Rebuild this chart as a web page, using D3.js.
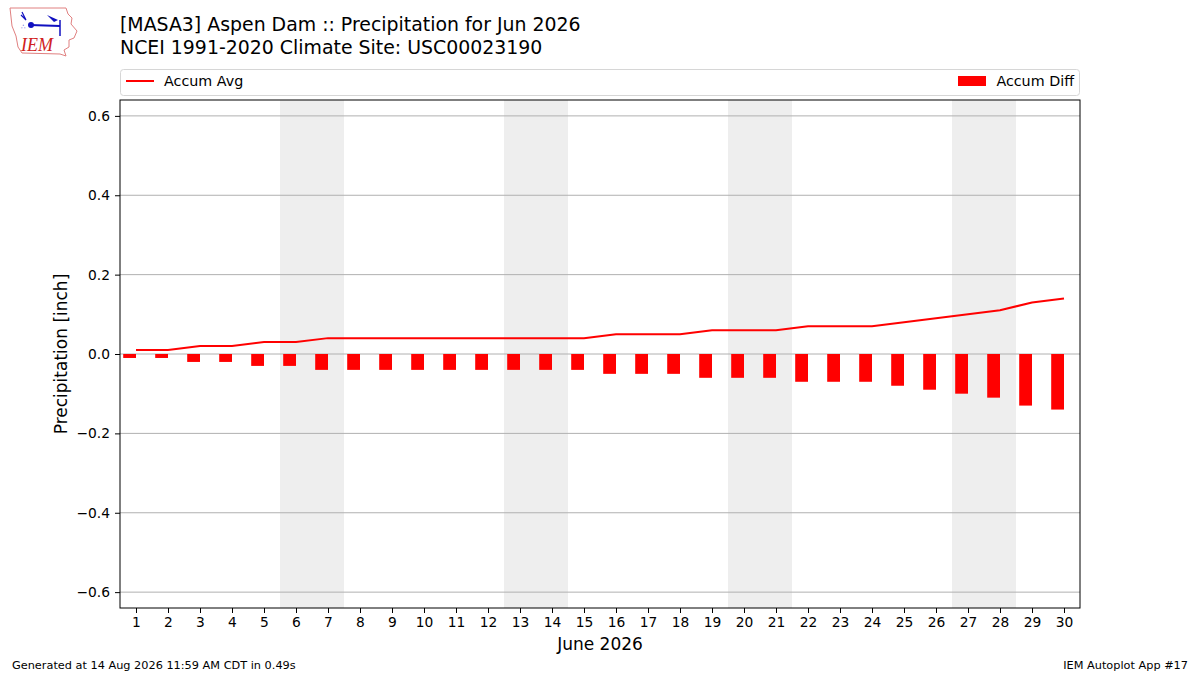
<!DOCTYPE html>
<html lang="en">
<head>
  <meta charset="UTF-8">
  <title>Aspen Dam Precipitation Jun 2026</title>
  <style>
    body { margin: 0; background: #fff; }
    svg { display: block; font-family: "DejaVu Sans", sans-serif; }
  </style>
</head>
<body>
  <svg width="1200" height="675"></svg>

  <script src="https://d3js.org/d3.v7.min.js"></script>
  <script>
    // data
    const days = d3.range(1, 31);
    const accumAvg = [0.01, 0.01, 0.02, 0.02, 0.03, 0.03, 0.04, 0.04, 0.04, 0.04,
                      0.04, 0.04, 0.04, 0.04, 0.04, 0.05, 0.05, 0.05, 0.06, 0.06,
                      0.06, 0.07, 0.07, 0.07, 0.08, 0.09, 0.10, 0.11, 0.13, 0.14];
    const accumDiff = [-0.01, -0.01, -0.02, -0.02, -0.03, -0.03, -0.04, -0.04, -0.04, -0.04,
                       -0.04, -0.04, -0.04, -0.04, -0.04, -0.05, -0.05, -0.05, -0.06, -0.06,
                       -0.06, -0.07, -0.07, -0.07, -0.08, -0.09, -0.10, -0.11, -0.13, -0.14];
    const weekendStarts = [6, 13, 20, 27];   // Saturdays
    const yTicks = [-0.6, -0.4, -0.2, 0.0, 0.2, 0.4, 0.6];

    const svg = d3.select("svg");
    const plotL = 120, plotR = 1080, plotT = 100, plotB = 608;

    const x = d3.scaleLinear().domain([0.5, 30.5]).range([plotL, plotR]);
    const y = d3.scaleLinear().domain([-0.64, 0.64]).range([plotB, plotT]);

    // 週末の網掛け
    svg.append("g").selectAll("rect")
      .data(weekendStarts)
      .join("rect")
      .attr("x", d => x(d - 0.5))
      .attr("width", d => x(d + 1.5) - x(d - 0.5))
      .attr("y", plotT)
      .attr("height", plotB - plotT)
      .attr("fill", "#eeeeee");

    // grid
    svg.append("g").selectAll("line")
      .data(yTicks)
      .join("line")
      .attr("x1", plotL).attr("x2", plotR)
      .attr("y1", d => y(d)).attr("y2", d => y(d))
      .attr("stroke", "#b0b0b0").attr("stroke-width", 1);

    // bars: matplotlib style, width -0.4 aligned on edge
    svg.append("g").selectAll("rect")
      .data(days)
      .join("rect")
      .attr("x", d => x(d - 0.4))
      .attr("width", d => x(d) - x(d - 0.4))
      .attr("y", (d, i) => y(Math.max(0, accumDiff[i])))
      .attr("height", (d, i) => Math.abs(y(accumDiff[i]) - y(0)))
      .attr("fill", "#ff0000");

    const line = d3.line()
      .x((d, i) => x(days[i]))
      .y(d => y(d));
    svg.append("path")
      .datum(accumAvg)
      .attr("fill", "none")
      .attr("stroke", "#ff0000")
      .attr("stroke-width", 2)
      .attr("d", line);

    // axes
    const yAxis = svg.append("g")
      .attr("transform", `translate(${plotL},0)`)
      .call(d3.axisLeft(y).tickValues(yTicks).tickSize(5).tickPadding(5)
        .tickFormat(d => d3.format(".1f")(d).replace("-", "\u2212")));
    const xAxis = svg.append("g")
      .attr("transform", `translate(0,${plotB})`)
      .call(d3.axisBottom(x).tickValues(days).tickSize(5).tickPadding(4));
    [xAxis, yAxis].forEach(a => {
      a.select(".domain").remove();
      a.selectAll("text").attr("font-size", 13.8).attr("fill", "#000")
        .attr("font-family", "DejaVu Sans, sans-serif");
      a.selectAll("line").attr("stroke", "#000");
    });
    svg.append("rect")
      .attr("x", plotL).attr("y", plotT)
      .attr("width", plotR - plotL).attr("height", plotB - plotT)
      .attr("fill", "none").attr("stroke", "#000").attr("stroke-width", 1);

    svg.append("text")
      .attr("transform", `translate(67,${(plotT + plotB) / 2}) rotate(-90)`)
      .attr("text-anchor", "middle").attr("font-size", 17)
      .text("Precipitation [inch]");
    svg.append("text")
      .attr("x", (plotL + plotR) / 2).attr("y", 650)
      .attr("text-anchor", "middle").attr("font-size", 17)
      .text("June 2026");

    // title
    svg.append("text").attr("x", 120).attr("y", 31).attr("font-size", 18.9)
      .text("[MASA3] Aspen Dam :: Precipitation for Jun 2026");
    svg.append("text").attr("x", 120).attr("y", 54).attr("font-size", 18.9)
      .text("NCEI 1991-2020 Climate Site: USC00023190");

    // legend
    const lg = svg.append("g");
    lg.append("rect")
      .attr("x", 120.5).attr("y", 69.5).attr("width", 959).attr("height", 26)
      .attr("rx", 3).attr("fill", "#fff").attr("stroke", "#d6d6d6");
    lg.append("line")
      .attr("x1", 126).attr("x2", 154).attr("y1", 81).attr("y2", 81)
      .attr("stroke", "#ff0000").attr("stroke-width", 2);
    lg.append("text").attr("x", 164).attr("y", 86).attr("font-size", 14.3).text("Accum Avg");
    lg.append("rect")
      .attr("x", 958).attr("y", 76).attr("width", 28).attr("height", 10)
      .attr("fill", "#ff0000");
    lg.append("text").attr("x", 1074).attr("y", 86).attr("font-size", 14.3)
      .attr("text-anchor", "end").text("Accum Diff");

    // footer
    svg.append("text").attr("x", 12).attr("y", 669).attr("font-size", 11.3)
      .text("Generated at 14 Aug 2026 11:59 AM CDT in 0.49s");
    svg.append("text").attr("x", 1188).attr("y", 669).attr("font-size", 11.3)
      .attr("text-anchor", "end").text("IEM Autoplot App #17");

    // IEM logo (rough)
    const logo = svg.append("g");
    logo.append("path")
      .attr("d", "M10,8 L66,8 L68,14 L72,18 L71,24 L77,31 L74,38 L69,40 L69,47 L64,50 L66,56 L60,54 L22,53 L18,47 L16,36 L12,26 Z")
      .attr("fill", "none").attr("stroke", "#e08080").attr("stroke-width", 1);
    logo.append("line").attr("x1", 30).attr("x2", 60).attr("y1", 25).attr("y2", 26)
      .attr("stroke", "#1010c0").attr("stroke-width", 2);
    logo.append("circle").attr("cx", 31).attr("cy", 25).attr("r", 3).attr("fill", "#1010c0");
    logo.append("path").attr("d", "M47,15 L58,20 L54,22 Z").attr("fill", "#1010c0");
    logo.append("path").attr("d", "M22,12 L26,20 L21,15").attr("fill", "none")
      .attr("stroke", "#1010c0").attr("stroke-width", 1.2);
    logo.append("text").attr("x", 21).attr("y", 29).attr("font-size", 7)
      .attr("fill", "#1010c0").text("∴");
    logo.append("line").attr("x1", 60).attr("x2", 60).attr("y1", 20).attr("y2", 36)
      .attr("stroke", "#1010c0").attr("stroke-width", 1.5);
    logo.append("text").attr("x", 21).attr("y", 51).attr("font-size", 18)
      .attr("font-family", "Liberation Serif, serif").attr("font-style", "italic")
      .attr("fill", "#d02020").text("IEM");
  </script>
</body>
</html>
